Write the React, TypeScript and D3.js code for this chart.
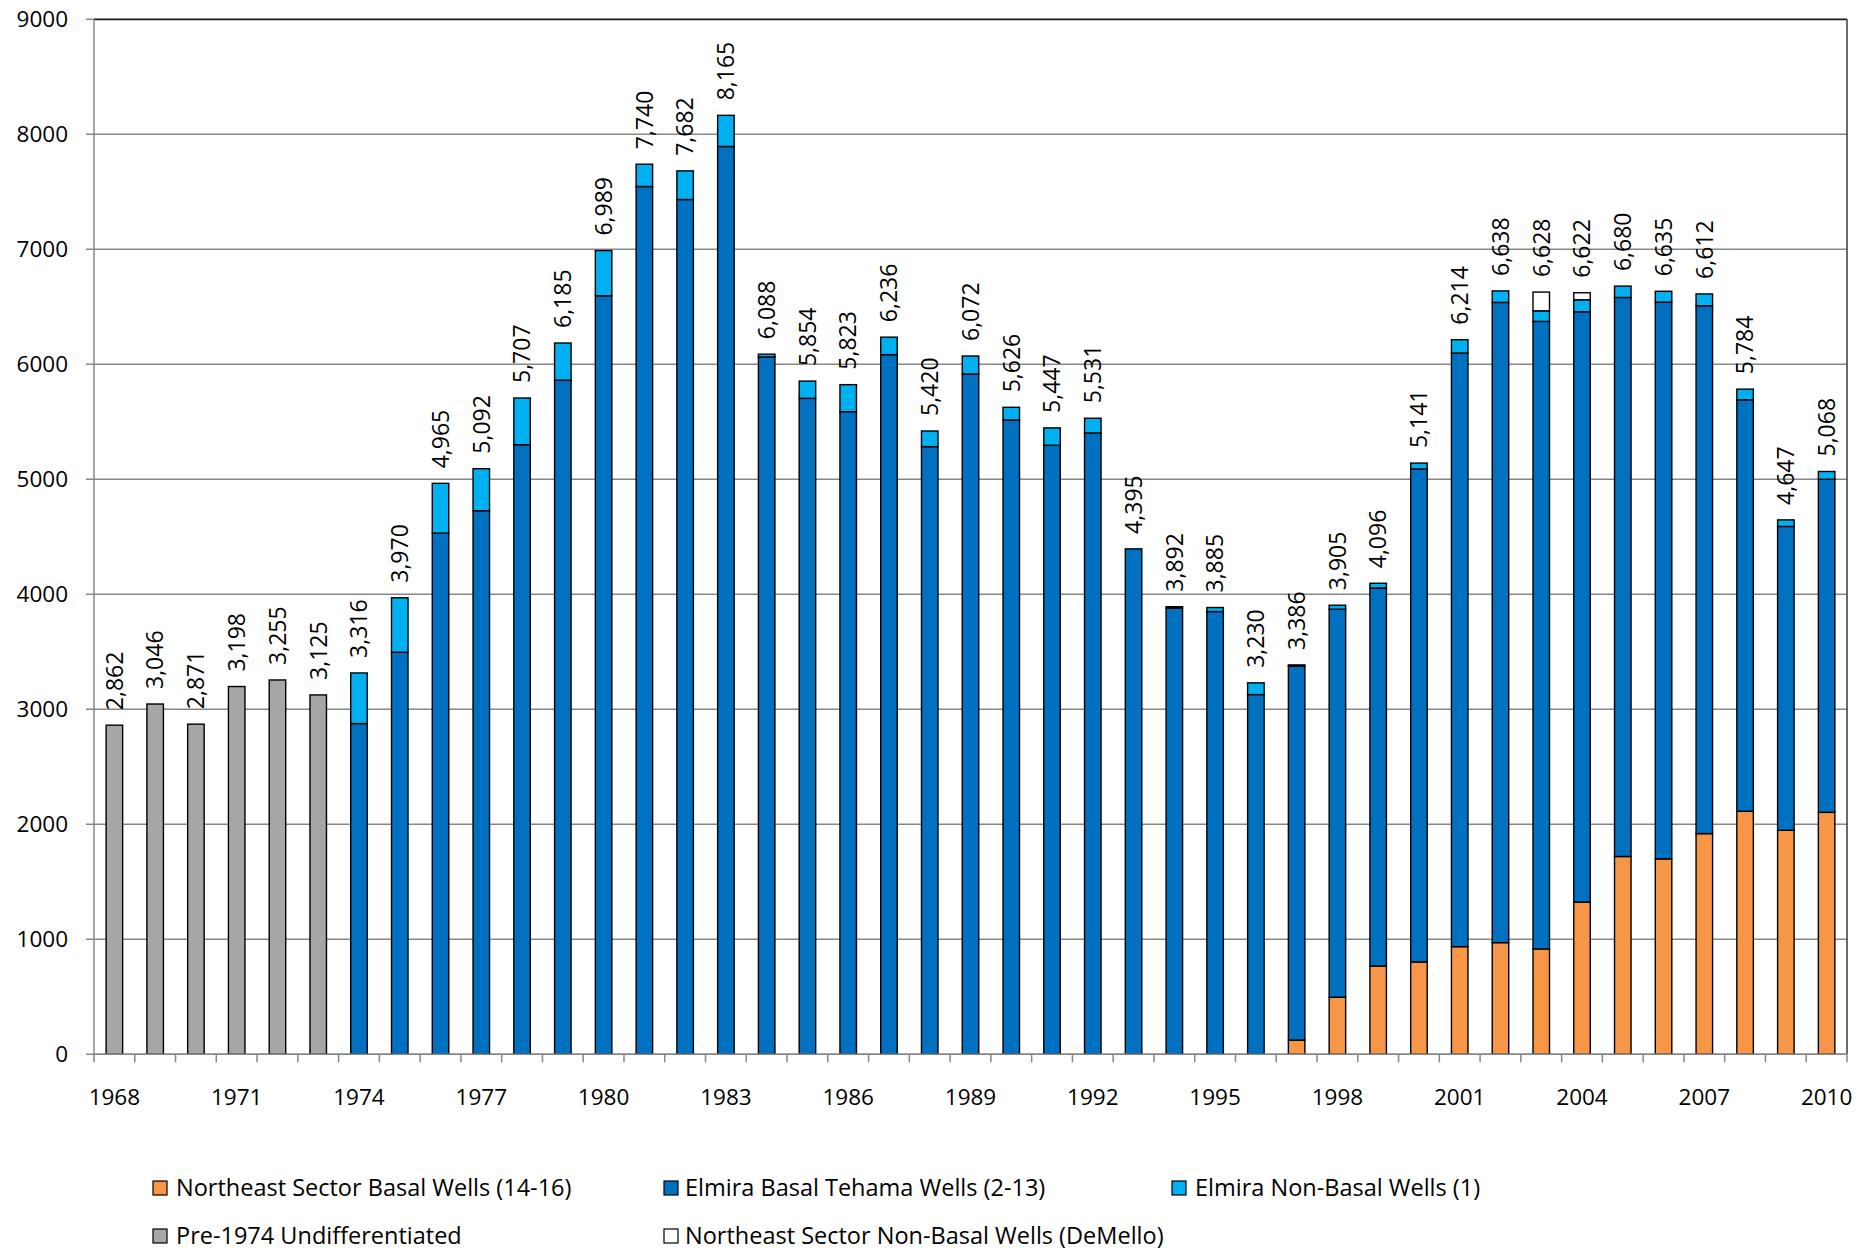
import React from "react";
import * as d3 from "d3";

// Years shown on the category axis
const years: number[] = d3.range(1968, 2011);

// Pumping totals per year (drawn as the label above each column)
const totals: number[] = [
  2862, 3046, 2871, 3198, 3255, 3125, 3316, 3970, 4965, 5092, 5707, 6185, 6989, 7740, 7682,
  8165, 6088, 5854, 5823, 6236, 5420, 6072, 5626, 5447, 5531, 4395, 3892, 3885, 3230, 3386,
  3905, 4096, 5141, 6214, 6638, 6628, 6622, 6680, 6635, 6612, 5784, 4647, 5068,
];

// Stacked series, bottom to top
const pre1974: number[] = [
  2862, 3046, 2871, 3198, 3255, 3125, 0, 0, 0, 0, 0, 0, 0, 0, 0, 0, 0, 0, 0, 0, 0, 0, 0, 0, 0,
  0, 0, 0, 0, 0, 0, 0, 0, 0, 0, 0, 0, 0, 0, 0, 0, 0, 0,
];
const neBasal: number[] = [
  0, 0, 0, 0, 0, 0, 0, 0, 0, 0, 0, 0, 0, 0, 0, 0, 0, 0, 0, 0, 0, 0, 0, 0, 0, 0, 0, 0, 0,
  124, 496, 768, 803, 936, 971, 916, 1324, 1720, 1699, 1919, 2113, 1948, 2104,
];
const elmiraBasal: number[] = [
  0, 0, 0, 0, 0, 0, 2876, 3496, 4532, 4727, 5301, 5862, 6596, 7546, 7433, 7894, 6064, 5704,
  5588, 6084, 5284, 5916, 5516, 5296, 5403, 4395, 3880, 3850, 3128, 3250, 3374, 3287, 4287,
  5162, 5567, 5457, 5133, 4861, 4841, 4590, 3578, 2642, 2896,
];
const elmiraNonBasal: number[] = [
  0, 0, 0, 0, 0, 0, 440, 474, 433, 365, 406, 323, 393, 194, 249, 271, 24, 150, 235, 152, 136,
  156, 110, 151, 128, 0, 12, 35, 102, 12, 35, 41, 51, 116, 100, 92, 104, 99, 95, 103, 93, 57,
  68,
];
const neNonBasal: number[] = [
  0, 0, 0, 0, 0, 0, 0, 0, 0, 0, 0, 0, 0, 0, 0, 0, 0, 0, 0, 0, 0, 0, 0, 0, 0, 0, 0, 0, 0, 0, 0,
  0, 0, 0, 0, 163, 61, 0, 0, 0, 0, 0, 0,
];

const yTicks: number[] = [0, 1000, 2000, 3000, 4000, 5000, 6000, 7000, 8000, 9000];

const seriesKeys = ["pre", "neBasal", "elmiraBasal", "elmiraNonBasal", "neNonBasal"] as const;
const seriesValues: Record<string, number[]> = {
  pre: pre1974,
  neBasal,
  elmiraBasal,
  elmiraNonBasal,
  neNonBasal,
};
const seriesColors: Record<string, string> = {
  pre: "#A6A6A6",
  neBasal: "#F79646",
  elmiraBasal: "#0070C0",
  elmiraNonBasal: "#00B0F0",
  neNonBasal: "#FFFFFF",
};

// Legend rows: [series key, label]
const legendRow1: [string, string][] = [
  ["neBasal", "Northeast Sector Basal Wells (14-16)"],
  ["elmiraBasal", "Elmira Basal Tehama Wells (2-13)"],
  ["elmiraNonBasal", "Elmira Non-Basal Wells (1)"],
];
const legendRow2: [string, string][] = [
  ["pre", "Pre-1974 Undifferentiated"],
  ["neNonBasal", "Northeast Sector Non-Basal Wells (DeMello)"],
];

const W = 1875;
const H = 1251;
const left = 94;
const right = 1847;
const top = 19.3;
const bottom = 1054.3;
const FONT = "'Open Sans', sans-serif";

export default function App() {
  const x = d3
    .scaleBand<number>()
    .domain(years)
    .range([left, right])
    .paddingInner(0.595)
    .paddingOuter(0.2975);
  const y = d3.scaleLinear().domain([0, 9000]).range([bottom, top]);
  const step = x.step();

  const rows = years.map((yr, i) => {
    const r: Record<string, number | string> = { year: yr };
    seriesKeys.forEach((k) => (r[k] = seriesValues[k][i]));
    return r;
  });
  const stacked = d3
    .stack<Record<string, number | string>>()
    .keys(seriesKeys as unknown as string[])
    .value((d, k) => d[k] as number)(rows);

  const fmt = d3.format(",");
  const legendX = [153, 664, 1172];
  const textX = [176, 685, 1195];

  return (
    <div>
      <style>{"body{margin:0}"}</style>
      <svg width={W} height={H} style={{ display: "block", background: "#fff" }}>
        {/* gridlines with their tick stubs */}
        {yTicks.map((t) => (
          <line
            key={"g" + t}
            x1={86}
            x2={t === 9000 ? left : right}
            y1={y(t)}
            y2={y(t)}
            stroke="#878787"
            strokeWidth={1.5}
          />
        ))}
        {/* plot frame: top and right */}
        <line x1={left} x2={right} y1={y(9000)} y2={y(9000)} stroke="#1a1a1a" strokeWidth={1.8} />
        <line x1={right} x2={right} y1={y(9000)} y2={bottom} stroke="#3a3a3a" strokeWidth={1.5} />

        {/* stacked columns */}
        {stacked.map((layer) =>
          layer.map((seg, i) => {
            const h = y(seg[0]) - y(seg[1]);
            if (h <= 0) return null;
            return (
              <rect
                key={layer.key + i}
                x={x(years[i])}
                y={y(seg[1])}
                width={x.bandwidth()}
                height={h}
                fill={seriesColors[layer.key]}
                stroke="#000"
                strokeWidth={1.4}
              />
            );
          })
        )}

        {/* axes */}
        <line x1={left} x2={left} y1={top} y2={bottom} stroke="#878787" strokeWidth={1.5} />
        <line x1={left} x2={right} y1={bottom} y2={bottom} stroke="#878787" strokeWidth={1.5} />
        {d3.range(years.length + 1).map((i) => (
          <line
            key={"t" + i}
            x1={left + i * step}
            x2={left + i * step}
            y1={bottom}
            y2={bottom + 8}
            stroke="#878787"
            strokeWidth={1.5}
          />
        ))}

        {/* y tick labels */}
        {yTicks.map((t) => (
          <text
            key={"yl" + t}
            x={68}
            y={y(t)}
            dy="0.36em"
            textAnchor="end"
            fontFamily={FONT}
            fontSize={22.5}
            fill="#000"
          >
            {t}
          </text>
        ))}

        {/* x tick labels every third year */}
        {years
          .filter((_, i) => i % 3 === 0)
          .map((yr) => (
            <text
              key={"xl" + yr}
              x={(x(yr) as number) + x.bandwidth() / 2}
              y={1097}
              dy="0.36em"
              textAnchor="middle"
              fontFamily={FONT}
              fontSize={22.5}
              fill="#000"
            >
              {yr}
            </text>
          ))}

        {/* total labels above columns */}
        {totals.map((v, i) => {
          const cx = (x(years[i]) as number) + x.bandwidth() / 2;
          const ty = y(v) - 15;
          return (
            <text
              key={"v" + i}
              transform={`translate(${cx},${ty}) rotate(-90)`}
              dy="0.36em"
              textAnchor="start"
              fontFamily={FONT}
              fontSize={23}
              fill="#000"
            >
              {fmt(v)}
            </text>
          );
        })}

        {/* legend */}
        {[legendRow1, legendRow2].map((row, r) =>
          row.map(([k, label], j) => {
            const cy = r === 0 ? 1188 : 1236;
            return (
              <g key={"lg" + k}>
                <rect
                  x={legendX[j]}
                  y={cy - 7}
                  width={14}
                  height={14}
                  fill={seriesColors[k]}
                  stroke="#000"
                  strokeWidth={1.2}
                />
                <text
                  x={textX[j]}
                  y={cy}
                  dy="0.36em"
                  fontFamily={FONT}
                  fontSize={23.5}
                  fill="#000"
                >
                  {label}
                </text>
              </g>
            );
          })
        )}
      </svg>
    </div>
  );
}
